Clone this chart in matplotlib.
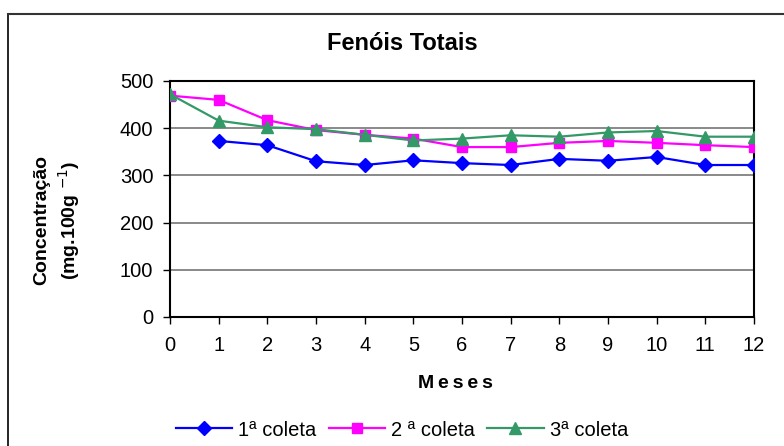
import matplotlib
matplotlib.use("Agg")
import matplotlib.pyplot as plt
from matplotlib.lines import Line2D
import numpy as np

plt.rcParams['font.family'] = ['Liberation Sans', 'DejaVu Sans']

meses = list(range(13))
coleta1 = [np.nan, 373, 364, 330, 322, 332, 326, 322, 335, 331, 339, 322, 322]
coleta2 = [469, 460, 417, 396, 386, 378, 360, 360, 369, 373, 369, 364, 360]
coleta3 = [472, 416, 402, 398, 386, 374, 378, 385, 382, 391, 394, 382, 382]
labels = ["1ª coleta", "2 ª coleta", "3ª coleta"]

W, H = 784, 446
fig = plt.figure(figsize=(W / 100, H / 100), dpi=100)
ax = fig.add_axes([170 / W, 1 - 317 / H, 584 / W, 236 / H])

# outer chart-area border (only top and left visible)
fig.add_artist(Line2D([8 / W, 8 / W], [0, 1 - 14 / H], color='black', lw=1.2))
fig.add_artist(Line2D([8 / W, 1], [1 - 14 / H, 1 - 14 / H], color='#333333', lw=1.5))

ax.plot(meses, coleta1, color='#0000FF', marker='D', markersize=7.5, lw=1.6, label=labels[0], zorder=3)
ax.plot(meses, coleta2, color='#FF00FF', marker='s', markersize=7.5, lw=1.6, label=labels[1], zorder=3)
ax.plot(meses, coleta3, color='#339966', marker='^', markersize=9, lw=1.6, label=labels[2], zorder=3)

ax.set_xlim(0, 12)
ax.set_ylim(0, 500)
ax.set_xticks(meses)
ax.set_yticks(range(0, 501, 100))
ax.yaxis.grid(True, color='#808080', lw=1.3)
ax.set_axisbelow(True)
for s in ax.spines.values():
    s.set_linewidth(1.5)
    s.set_color('black')
ax.tick_params(labelsize=14.5, direction='out', length=5, width=1)
ax.tick_params(axis='x', pad=9)
ax.tick_params(axis='y', pad=7)

fig.text(402 / W, 1 - 44 / H, "Fenóis Totais", fontsize=17, fontweight='bold',
         ha='center', va='center')
fig.text(455 / W, 1 - 384 / H, "M\u2009e\u2009s\u2009e\u2009s", fontsize=14, fontweight='bold',
         ha='center', va='center')
fig.text(58 / W, 1 - 220 / H, "Concentração\n(mg.100g $^{-1}$)", fontsize=14, fontweight='bold',
         ha='center', va='center', rotation=90, linespacing=1.3)

fig.legend(loc='center', bbox_to_anchor=(402 / W, 1 - 430 / H), ncol=3, frameon=False,
           fontsize=14.5, handlelength=2.8, columnspacing=0.6, handletextpad=0.3)

fig.savefig("out.png", dpi=100)
